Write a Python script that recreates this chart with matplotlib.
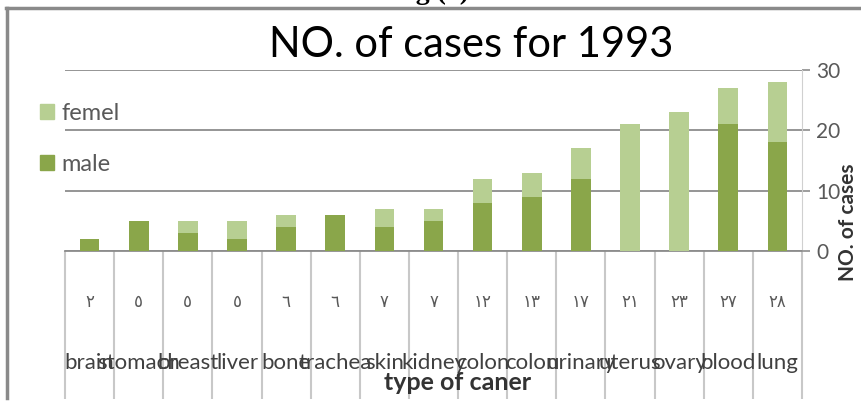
import numpy as np
import matplotlib
matplotlib.use('Agg')
import matplotlib.pyplot as plt
from matplotlib.lines import Line2D
from matplotlib.patches import Patch

# Data
cancer_types = ['brain', 'stomach', 'breast', 'liver', 'bone', 'trachea', 'skin', 'kidney',
                'colon', 'colon', 'urinary', 'uterus', 'ovary', 'blood', 'lung']
total_labels = ['٢', '٥', '٥', '٥', '٦', '٦', '٧', '٧', '١٢', '١٣', '١٧', '٢١', '٢٣', '٢٧', '٢٨']
male = [2, 5, 3, 2, 4, 6, 4, 5, 8, 9, 12, 0, 0, 21, 18]
femel = [0, 0, 2, 3, 2, 0, 3, 2, 4, 4, 5, 21, 23, 6, 10]
yticks = [0, 10, 20, 30]

male_color = '#8aa64a'
femel_color = '#b7cf92'
text_grey = '#595959'

W, H = 861, 401
fig = plt.figure(figsize=(W / 100.0, H / 100.0), dpi=100)
fig.patch.set_facecolor('white')

# axes box in pixels: x 65..802, y 70..251
ax = fig.add_axes([65.0 / W, 1 - 251.0 / H, (802.0 - 65) / W, (251.0 - 70) / H])

x = np.arange(len(cancer_types))
ax.set_axisbelow(True)
ax.bar(x, male, 0.4, color=male_color, zorder=3)
ax.bar(x, femel, 0.4, bottom=male, color=femel_color, zorder=3)

ax.set_xlim(-0.5, len(x) - 0.5)
ax.set_ylim(0, 30)

# Axis styling
for s in ['top', 'left']:
    ax.spines[s].set_visible(False)
ax.spines['right'].set_color('#d0d0d0')
ax.spines['bottom'].set_color('#8c8c8c')
ax.spines['bottom'].set_linewidth(1.3)
ax.yaxis.tick_right()
ax.set_yticks(yticks)
ax.tick_params(axis='y', length=6, width=1.2, color='#8c8c8c', labelcolor=text_grey,
               labelsize=15, pad=4)
for lab in ax.get_yticklabels():
    lab.set_family('Lato')
ax.set_xticks([])
ax.yaxis.grid(True, color='#8c8c8c', lw=1.3)

# Category table below the axis
bounds = np.arange(len(x) + 1) - 0.5
ax.vlines(bounds, -24.5, 0, colors='#c8c8c8', lw=1.5, clip_on=False)
for i in range(len(x)):
    ax.text(x[i], -8.5, total_labels[i], ha='center', va='center', fontsize=12,
            color=text_grey, family='DejaVu Sans')
    ax.text(x[i], -18.5, cancer_types[i], ha='center', va='center', fontsize=16,
            color='#404040', family='Lato')

# Titles
fig.text(471.0 / W, 1 - 45.0 / H, 'NO. of cases for 1993', ha='center', va='center',
         fontsize=30, family='Lato', color='#000000')
fig.text(458.0 / W, 1 - 383.0 / H, 'type of caner', ha='center', va='center',
         fontsize=18, family='Lato', fontweight='bold', color='#333333')
fig.text(848.0 / W, 1 - 222.0 / H, 'NO. of cases', ha='center', va='center', rotation=90,
         fontsize=15, family='Lato', fontweight='bold', color='#333333')

# Cut off caption at the very top
fig.text(430.0 / W, 1 + 1.0 / H, 'Fig (3)', ha='center', va='baseline', fontsize=20,
         family='Liberation Serif', fontweight='bold', color='black')

# Legend
handles = [Patch(color=femel_color), Patch(color=male_color)]
leg = fig.legend(handles, ['femel', 'male'], loc='upper left',
                 bbox_to_anchor=(40.0 / W, 1 - 103.0 / H), frameon=False,
                 handlelength=0.6, handleheight=0.6, handletextpad=0.3,
                 labelspacing=1.25, borderpad=0, borderaxespad=0,
                 prop={'family': 'Lato', 'size': 17})
for t in leg.get_texts():
    t.set_color(text_grey)

# Grey frame around the chart
fig.add_artist(Line2D([6.0 / W, 1], [1 - 8.0 / H, 1 - 8.0 / H], transform=fig.transFigure,
                      color='#8a8a8a', lw=2.5))
fig.add_artist(Line2D([7.0 / W, 7.0 / W], [1 - 8.0 / H, 1 - 398.0 / H], transform=fig.transFigure,
                      color='#8a8a8a', lw=2.5))

fig.savefig('out.png', dpi=100)
